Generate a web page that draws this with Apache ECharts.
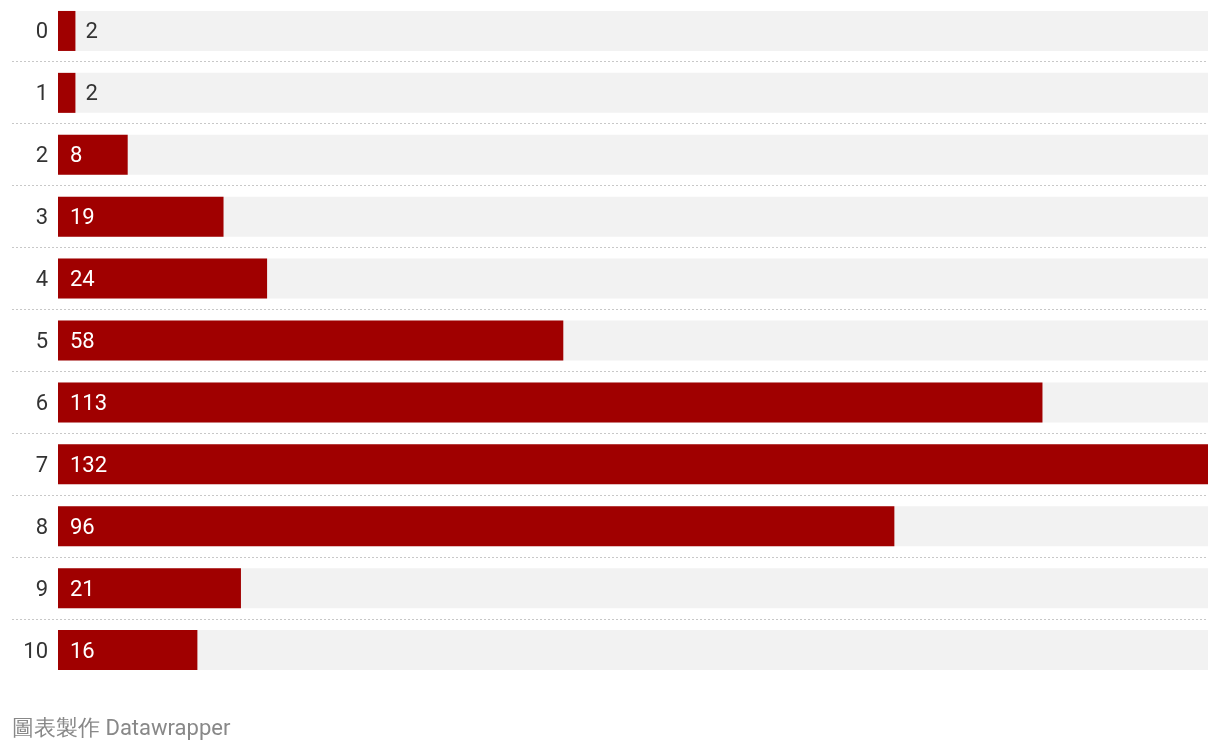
<!DOCTYPE html>
<html>
<head>
<meta charset="utf-8">
<script src="https://cdn.jsdelivr.net/npm/echarts@6/dist/echarts.min.js"></script>
<style>
  html, body { margin: 0; padding: 0; background: #fff; }
  #main { width: 1220px; height: 752px; }
</style>
</head>
<body>
<div id="main"></div>
<script>
// categories (top to bottom) and their counts
var categories = ['0', '1', '2', '3', '4', '5', '6', '7', '8', '9', '10'];
var counts = [2, 2, 8, 19, 24, 58, 113, 132, 96, 21, 16];
var maxCount = 132;
var footer = '圖表製作 Datawrapper';

var chartDom = document.getElementById('main');
var myChart = echarts.init(chartDom);

// short bars get their label outside, in dark text
var barData = counts.map(function (v) {
  var item = { value: v };
  if (v < 5) {
    item.label = { position: 'right', distance: 10, color: '#333' };
  }
  return item;
});

var option = {
  animation: false,
  textStyle: { fontFamily: 'Roboto' },
  title: {
    text: footer,
    left: 12,
    top: 718,
    padding: 0,
    textStyle: { fontFamily: 'Roboto', fontSize: 22, fontWeight: 'normal', color: '#888' }
  },
  grid: [
    // grid 0 only carries the dotted row separators
    { left: 12, right: 12, top: 61, height: 558 },
    { left: 58, right: 12, top: -1, height: 682 }
  ],
  xAxis: [
    { gridIndex: 0, type: 'value', min: 0, max: 1, show: false },
    { gridIndex: 1, type: 'value', min: 0, max: maxCount, show: false }
  ],
  yAxis: [
    {
      gridIndex: 0, type: 'value', min: 0, max: 9, interval: 1,
      axisLine: { show: false }, axisTick: { show: false }, axisLabel: { show: false },
      splitLine: { show: true, lineStyle: { color: '#c8c8c8', width: 1, type: [2, 2] } }
    },
    {
      gridIndex: 1, type: 'category', data: categories, inverse: true,
      axisLine: { show: false }, axisTick: { show: false }, splitLine: { show: false },
      axisLabel: {
        margin: 10,
        formatter: '{c|{value}}',
        rich: {
          c: { color: '#333', fontSize: 22, fontFamily: 'Roboto', padding: [4, 0, 0, 0] }
        }
      }
    }
  ],
  series: [
    {
      type: 'bar',
      xAxisIndex: 1,
      yAxisIndex: 1,
      data: barData,
      barWidth: 40,
      itemStyle: { color: '#a00000' },
      showBackground: true,
      backgroundStyle: { color: '#f2f2f2' },
      label: {
        show: true,
        position: 'insideLeft',
        distance: 12,
        offset: [0, 2],
        color: '#fff',
        fontSize: 22,
        fontFamily: 'Roboto'
      }
    }
  ]
};

myChart.setOption(option);
</script>
</body>
</html>
